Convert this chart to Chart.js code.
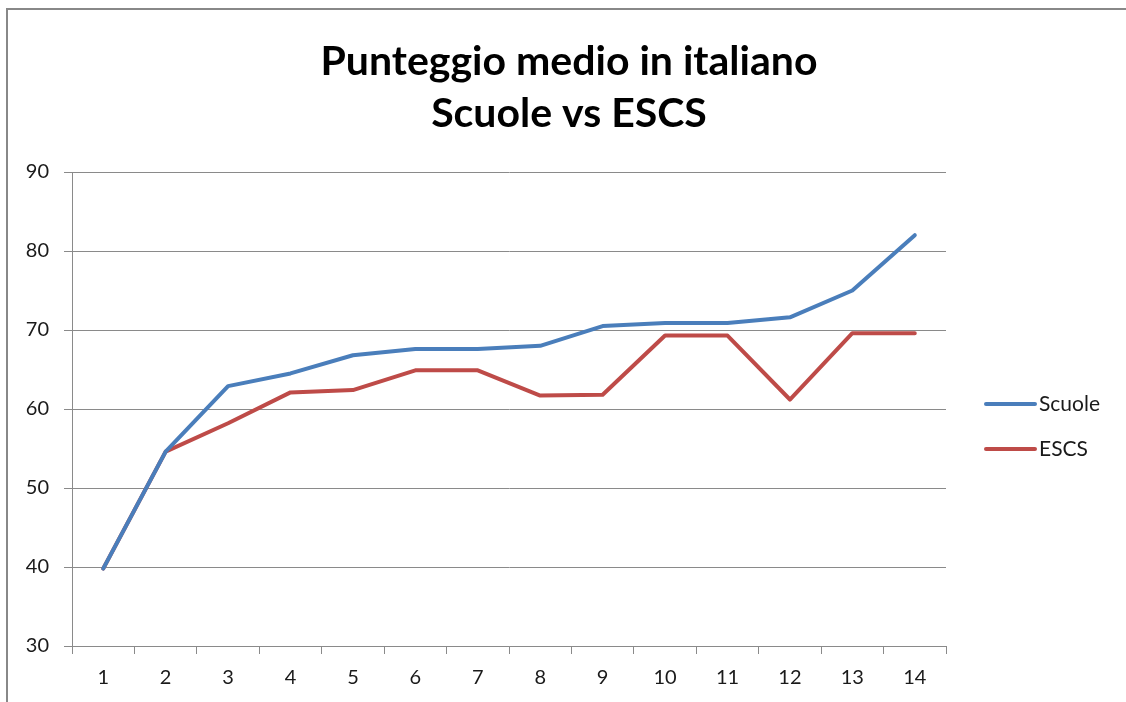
<!DOCTYPE html>
<html>
<head>
<meta charset="utf-8">
<script src="https://cdn.jsdelivr.net/npm/chart.js@4/dist/chart.umd.min.js"></script>
<style>
  html, body { margin: 0; padding: 0; background: #fff; overflow: hidden; }
  #wrap { position: relative; width: 1126px; height: 702px; }
</style>
</head>
<body>
<div id="wrap"><canvas id="c" width="1126" height="702"></canvas></div>
<script>
const categories = ['1','2','3','4','5','6','7','8','9','10','11','12','13','14'];
const scuoleValues = [39.8, 54.6, 62.9, 64.5, 66.8, 67.6, 67.6, 68.0, 70.5, 70.9, 70.9, 71.6, 75.0, 82.0];
const escsValues   = [39.8, 54.6, 58.2, 62.1, 62.4, 64.9, 64.9, 61.7, 61.8, 69.3, 69.3, 61.2, 69.6, 69.6];
const seriesNames = ['Scuole', 'ESCS'];
const titleLines = ['Punteggio medio in italiano', 'Scuole vs ESCS'];
const yMin = 30, yMax = 90, yStep = 10;

const FONT = 'Lato, "Open Sans", sans-serif';
const gridColor = '#8a8a8a';
const textColor = '#1a1a1a';

const decorPlugin = {
  id: 'decor',
  beforeDraw(chart) {
    const ctx = chart.ctx;
    ctx.save();
    ctx.fillStyle = '#fff';
    ctx.fillRect(0, 0, chart.width, chart.height);
    ctx.strokeStyle = '#888888';
    ctx.lineWidth = 2;
    ctx.strokeRect(7, 9, 1300, 900);
    ctx.restore();
  },
  afterDraw(chart) {
    const ctx = chart.ctx;
    ctx.save();
    ctx.fillStyle = '#000';
    ctx.textAlign = 'center';
    ctx.textBaseline = 'alphabetic';
    ctx.font = 'bold 41px ' + FONT;
    ctx.fillText(titleLines[0], 569, 75);
    ctx.fillText(titleLines[1], 569, 127);
    // legend
    ctx.textAlign = 'left';
    ctx.textBaseline = 'middle';
    ctx.font = '21px ' + FONT;
    const ys = [404, 449];
    chart.data.datasets.forEach((ds, i) => {
      ctx.strokeStyle = ds.borderColor;
      ctx.lineWidth = 4;
      ctx.lineCap = 'round';
      ctx.beginPath();
      ctx.moveTo(986, ys[i]);
      ctx.lineTo(1035, ys[i]);
      ctx.stroke();
      ctx.fillStyle = textColor;
      ctx.fillText(ds.label, 1039, ys[i]);
    });
    ctx.restore();
  }
};

new Chart(document.getElementById('c'), {
  type: 'line',
  data: {
    labels: categories,
    datasets: [
      { label: seriesNames[0], data: scuoleValues, borderColor: '#4A7EBB', backgroundColor: '#4A7EBB', borderWidth: 4, pointRadius: 0, tension: 0, borderJoinStyle: 'round', borderCapStyle: 'round' },
      { label: seriesNames[1], data: escsValues, borderColor: '#BE4B48', backgroundColor: '#BE4B48', borderWidth: 4, pointRadius: 0, tension: 0, borderJoinStyle: 'round', borderCapStyle: 'round' }
    ]
  },
  options: {
    responsive: false,
    animation: false,
    devicePixelRatio: 1,
    layout: { padding: { top: 172, right: 180, left: 0, bottom: 0 } },
    plugins: {
      legend: { display: false },
      title: { display: false },
      tooltip: { enabled: false }
    },
    scales: {
      x: {
        offset: true,
        grid: { offset: true, drawOnChartArea: false, drawTicks: true, tickLength: 8, color: gridColor, lineWidth: 1 },
        border: { display: true, color: gridColor, width: 1 },
        ticks: { color: textColor, font: { family: FONT, size: 20 }, padding: 12, maxRotation: 0 },
        afterFit(s) { s.height = 56; }
      },
      y: {
        min: yMin, max: yMax,
        grid: { color: gridColor, lineWidth: 1, tickLength: 8, drawTicks: true },
        border: { display: true, color: gridColor, width: 1 },
        ticks: { stepSize: yStep, color: textColor, font: { family: FONT, size: 20 }, padding: 15 },
        afterFit(s) { s.width = 72; }
      }
    }
  },
  plugins: [decorPlugin]
});
</script>
</body>
</html>
